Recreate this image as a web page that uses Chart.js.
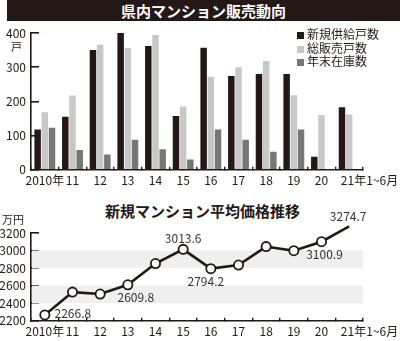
<!DOCTYPE html>
<html lang="ja">
<head>
<meta charset="utf-8">
<script src="https://cdn.jsdelivr.net/npm/chart.js@4"></script>
<style>
body{margin:0;background:#fff;font-family:"Noto Sans CJK JP",sans-serif;color:#231815}
#wrap{position:relative;width:400px;height:341px;overflow:hidden}
canvas{position:absolute;left:0}
#head{position:absolute;left:7px;top:0;width:393px;height:21px;background:#231815;color:#fff;font-weight:bold;font-size:15px;line-height:21px;text-align:center}
#sub{position:absolute;left:0;top:201px;width:405px;font-weight:bold;font-size:15px;line-height:20px;text-align:center}
.unit{position:absolute;font-size:11px;line-height:12px}
#legend{position:absolute;left:297px;top:27px;font-size:12px;line-height:13.5px}
#legend span{display:inline-block;width:7px;height:7px;margin-right:3px;vertical-align:0px}
</style>
</head>
<body>
<div id="wrap">
  <div id="head">県内マンション販売動向</div>
  <canvas id="salesChart" width="400" height="190" style="top:0"></canvas>
  <div class="unit" style="left:11px;top:40px">戸</div>
  <div id="legend"></div>
  <div id="sub">新規マンション平均価格推移</div>
  <canvas id="priceChart" width="400" height="151" style="top:190px"></canvas>
  <div class="unit" style="left:2px;top:213px">万円</div>
</div>
<script>
// years on both charts
var years = ['2010年', '11', '12', '13', '14', '15', '16', '17', '18', '19', '20', '21年1~6月']

// units: 戸
var supply = [118, 155, 350, 400, 362, 157, 357, 274, 280, 280, 38, 183]
var sold = [168, 217, 366, 356, 394, 185, 272, 300, 318, 218, 160, 162]
var stock = [123, 58, 45, 88, 60, 30, 118, 88, 53, 118, null, null]

// average price, 万円
var price = [2266.8, 2527, 2505, 2609.8, 2852, 3013.6, 2794.2, 2835, 3045, 2998, 3100.9, 3274.7]

var salesTicks = [0, 100, 200, 300, 400]
var priceTicks = [2200, 2400, 2600, 2800, 3000, 3200]
var shadeBands = [[2400, 2600], [2800, 3000]]

// which points get a value tag and where (offset of the text centre from the point)
var tagOffsets = {0: [28, -1], 3: [8, 13], 5: [0, -11], 6: [-5, 13], 10: [3, 13], 11: [-1, -10]}

var ink = '#231815'
var font = '"Noto Sans CJK JP", sans-serif'
Chart.defaults.font.family = font
Chart.defaults.color = ink

// x labels drawn by hand so the last one can sit to the right
var yearLabels = {
  id: 'yearLabels',
  afterDraw(chart) {
    var sc = chart.scales.x
    var c = chart.ctx
    c.save()
    c.font = '12px ' + font
    c.fillStyle = ink
    c.textBaseline = 'middle'
    var step = sc.width / years.length
    years.forEach(function (t, i) {
      var x = sc.getPixelForValue(i)
      if (i === years.length - 1) {
        c.textAlign = 'left'
        x = x - step * 0.3
      } else {
        c.textAlign = 'center'
      }
      c.fillText(t, x, sc.top + 11)
    })
    c.restore()
  }
}

// light grey bands behind the line
var bands = {
  id: 'bands',
  beforeDatasetsDraw(chart) {
    var y = chart.scales.y
    var a = chart.chartArea
    var c = chart.ctx
    c.save()
    c.fillStyle = '#efefef'
    shadeBands.forEach(function (b) {
      var top = y.getPixelForValue(b[1])
      var bot = y.getPixelForValue(b[0])
      c.fillRect(a.left + 1, top, a.right - a.left - 1, bot - top)
    })
    c.restore()
  }
}

// value tags next to some points
var valueTags = {
  id: 'valueTags',
  afterDatasetsDraw(chart) {
    var pts = chart.getDatasetMeta(0).data
    var c = chart.ctx
    c.save()
    c.font = '12px ' + font
    c.fillStyle = '#333'
    c.textAlign = 'center'
    c.textBaseline = 'middle'
    Object.keys(tagOffsets).forEach(function (k) {
      var p = pts[k]
      var off = tagOffsets[k]
      c.fillText(price[k].toFixed(1), p.x + off[0], p.y + off[1])
    })
    c.restore()
  }
}

function yAxis(min, max, ticks) {
  return {
    min: min, max: max,
    afterFit: function (s) { s.width = 31 },
    afterBuildTicks: function (s) { s.ticks = ticks.map(function (v) { return {value: v} }) },
    border: {color: ink, width: 1.6},
    grid: {drawOnChartArea: false, tickLength: -8, color: ink, lineWidth: 1.6},
    ticks: {padding: 13, font: {size: 12}, color: ink, callback: function (v) { return String(v) }}
  }
}

function xAxis(h) {
  return {
    offset: true,
    afterFit: function (s) { s.height = h },
    border: {color: ink, width: 1.6},
    grid: {offset: true, drawOnChartArea: false, tickLength: -3, color: ink, lineWidth: 1.4},
    ticks: {display: false}
  }
}

function create_Sales_Chart() {
  var ctx = document.getElementById('salesChart').getContext('2d')
  var chart = new Chart(ctx, {
    type: 'bar',
    data: {
      labels: years,
      datasets: [
        {label: '新規供給戸数', data: supply, backgroundColor: ink},
        {label: '総販売戸数', data: sold, backgroundColor: '#c8c8c8'},
        {label: '年末在庫数', data: stock, backgroundColor: '#777777'}
      ]
    },
    options: {
      responsive: false,
      devicePixelRatio: 1,
      animation: false,
      categoryPercentage: 0.78,
      barPercentage: 0.9,
      layout: {padding: {top: 33, right: 37, left: 0, bottom: 0}},
      plugins: {legend: {display: false}, tooltip: {enabled: false}},
      scales: {x: xAxis(20), y: yAxis(0, 400, salesTicks)}
    },
    plugins: [yearLabels]
  })
  return chart
}

function create_Price_Chart() {
  var ctx = document.getElementById('priceChart').getContext('2d')
  return new Chart(ctx, {
    type: 'line',
    data: {
      labels: years,
      datasets: [{
        data: price,
        clip: false,
        borderColor: ink,
        borderWidth: 2.6,
        tension: 0,
        pointRadius: 4.6,
        pointBackgroundColor: '#fff',
        pointBorderColor: ink,
        pointBorderWidth: 1.8
      }]
    },
    options: {
      responsive: false,
      devicePixelRatio: 1,
      animation: false,
      layout: {padding: {top: 43, right: 37, left: 0, bottom: 0}},
      plugins: {legend: {display: false}, tooltip: {enabled: false}},
      scales: {x: xAxis(16), y: yAxis(2200, 3200, priceTicks)}
    },
    plugins: [bands, yearLabels, valueTags]
  })
}

var sales = create_Sales_Chart()
create_Price_Chart()

// legend built from the bar datasets
var lg = document.getElementById('legend')
sales.data.datasets.forEach(function (d) {
  var row = document.createElement('div')
  row.innerHTML = '<span style="background:' + d.backgroundColor + '"></span>' + d.label
  lg.appendChild(row)
})
</script>
</body>
</html>
